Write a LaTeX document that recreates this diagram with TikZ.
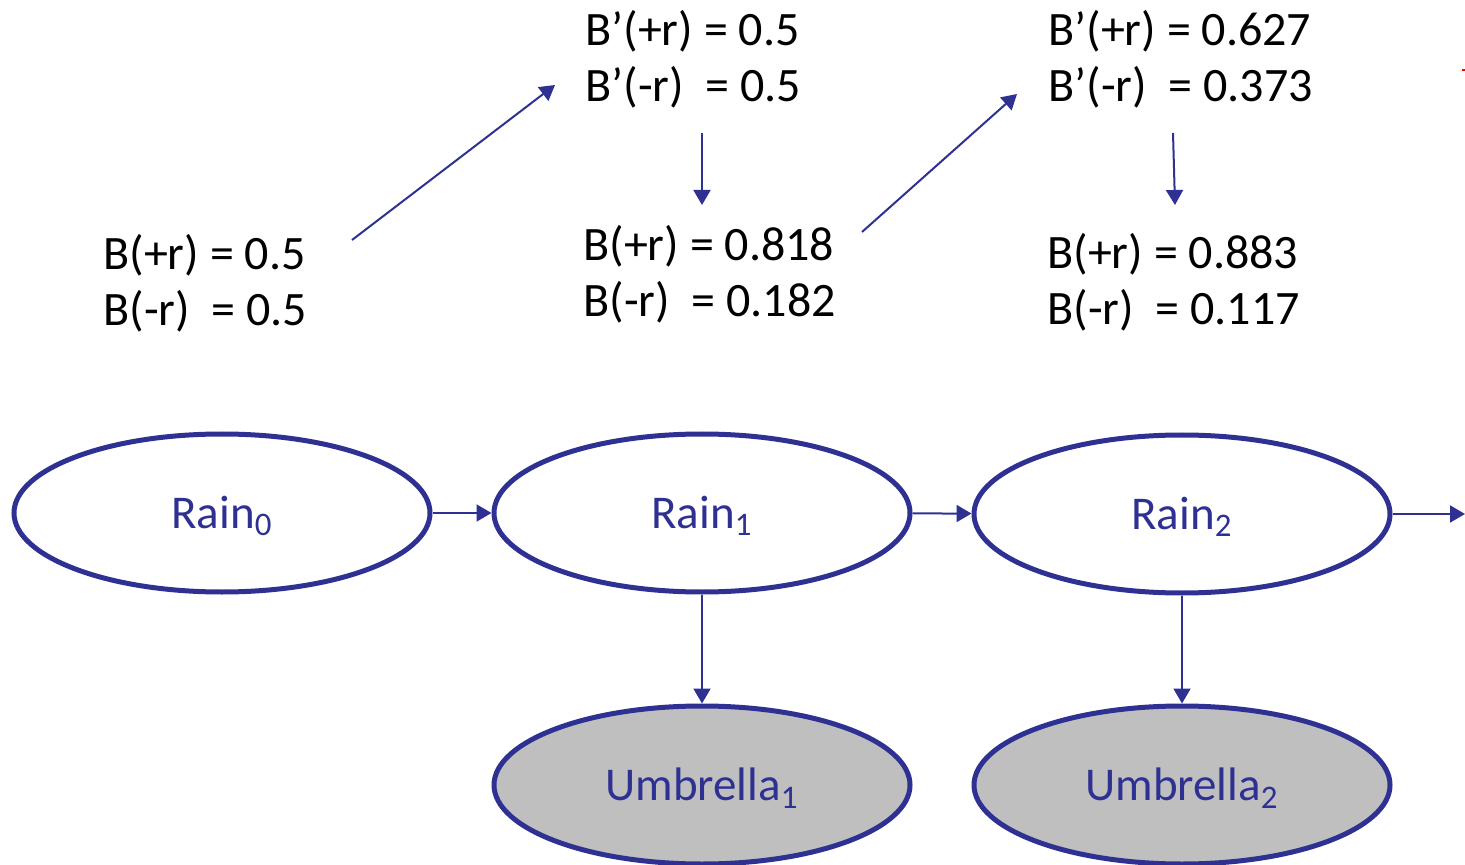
\documentclass[tikz,border=0pt]{standalone}
\usepackage{fontspec}
\setmainfont{Carlito}
\usetikzlibrary{arrows.meta,shapes.geometric}
\definecolor{navy}{HTML}{2E3192}
\definecolor{obsgray}{HTML}{BFBFBF}
\tikzset{
  statenode/.style={ellipse, draw=navy, line width=2.5pt, minimum width=208pt, minimum height=79pt, inner sep=0pt, text=navy, font=\fontsize{23.5}{27}\selectfont},
  obsnode/.style={statenode, fill=obsgray},
  lbl/.style={anchor=center, inner sep=0pt, text=navy, font=\fontsize{23.5}{27}\selectfont, yshift=-1.5pt},
  belief/.style={anchor=base west, inner sep=0pt, font=\fontsize{24}{28}\selectfont, text=black},
  link/.style={draw=navy, line width=1pt, -{Triangle[length=7.5pt,width=8.5pt]}},
}
\begin{document}
\begin{tikzpicture}[x=0.5pt,y=-0.5pt]
\useasboundingbox (0,0) rectangle (1465,865);
% state nodes
\node[statenode] (r0) at (222,513) {};
\node[statenode] (r1) at (702,513) {};
\node[statenode] (r2) at (1182,514) {};
\node[obsnode] (u1) at (702,785) {};
\node[obsnode] (u2) at (1182,785) {};
\node[lbl] (r0t) at (r0.center) {Rain\textsubscript{0}};
\node[lbl] (r1t) at (r1.center) {Rain\textsubscript{1}};
\node[lbl] (r2t) at (r2.center) {Rain\textsubscript{2}};
\node[lbl] (u1t) at (u1.center) {Umbrella\textsubscript{1}};
\node[lbl] (u2t) at (u2.center) {Umbrella\textsubscript{2}};
\coordinate (rout) at (1465,514);
% belief texts
\node[belief] (b0p) at (103,270) {B(+r) = 0.5};
\node[belief] (b0m) at (103,326) {B(-r)\ \ = 0.5};
\node[belief] (bp1p) at (585,46) {B’(+r) = 0.5};
\node[belief] (bp1m) at (585,102) {B’(-r)\ \ = 0.5};
\node[belief] (b1p) at (583,261) {B(+r) = 0.818};
\node[belief] (b1m) at (583,317) {B(-r)\ \ = 0.182};
\node[belief] (bp2p) at (1048,46) {B’(+r) = 0.627};
\node[belief] (bp2m) at (1048,102) {B’(-r)\ \ = 0.373};
\node[belief] (b2p) at (1047,269) {B(+r) = 0.883};
\node[belief] (b2m) at (1047,325) {B(-r)\ \ = 0.117};
% arrow end points
\coordinate (a1s) at (352,240);
\coordinate (a1e) at (555,85);
\coordinate (a2s) at (702,133);
\coordinate (a2e) at (702,205);
\coordinate (a3s) at (862,232);
\coordinate (a3e) at (1017,94);
\coordinate (a4s) at (1173,133);
\coordinate (a4e) at (1175,205);
% connectors
\draw[link] (r0) -- (r1);
\draw[link] (r1) -- (r2);
\draw[link] (r2) -- (rout);
\draw[link] (r1) -- (u1);
\draw[link] (r2) -- (u2);
\draw[link] (a1s) -- (a1e);
\draw[link] (a2s) -- (a2e);
\draw[link] (a3s) -- (a3e);
\draw[link] (a4s) -- (a4e);
% small red mark
\coordinate (m1) at (1462,70);
\coordinate (m2) at (1465,70);
\draw[red, line width=1pt] (m1) -- (m2);
\end{tikzpicture}
\end{document}
